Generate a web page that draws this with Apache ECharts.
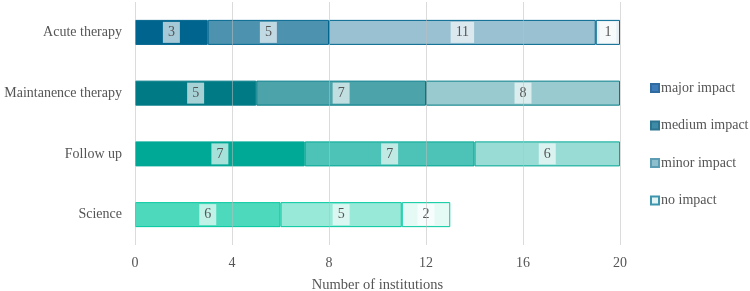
<!DOCTYPE html>
<html>
<head>
<meta charset="utf-8">
<script src="https://cdn.jsdelivr.net/npm/echarts@6/dist/echarts.min.js"></script>
<style>
  html, body { margin: 0; padding: 0; background: #fff; }
  #chart { width: 750px; height: 291px; }
</style>
</head>
<body>
<div id="chart"></div>
<script>
const categories = ['Acute therapy', 'Maintanence therapy', 'Follow up', 'Science'];
const majorImpact = [3, 5, 7, 0];
const mediumImpact = [5, 7, 7, 6];
const minorImpact = [11, 8, 6, 5];
const noImpact = [1, 0, 0, 2];
const xTicks = [0, 4, 8, 12, 16, 20];

// each row has its own hue, lighter shades for lower impact
const rowBase = ['#00658e', '#007b86', '#00a896', '#00c89f'];
const FONT = '"Liberation Serif", "DejaVu Serif", serif';

function tint(hex, a) {
    const n = parseInt(hex.slice(1), 16);
    const ch = [(n >> 16) & 255, (n >> 8) & 255, n & 255].map(c => Math.round(c * a + 255 * (1 - a)));
    return '#' + ch.map(c => c.toString(16).padStart(2, '0')).join('');
}

function buildSeries(name, values, alpha, legendColor, legendBorder) {
    return {
        name: name,
        type: 'bar',
        stack: 'total',
        barWidth: 25,
        itemStyle: { color: legendColor, borderColor: legendBorder, borderWidth: 1 },
        label: {
            show: true,
            position: 'inside',
            color: '#555',
            fontFamily: FONT,
            fontSize: 14,
            backgroundColor: 'rgba(255,255,255,0.65)',
            padding: [4, 5, 3, 5]
        },
        data: values.map((v, i) => ({
            value: v,
            itemStyle: {
                color: tint(rowBase[i], alpha),
                borderColor: rowBase[i],
                borderWidth: v === 0 ? 0 : 1
            },
            label: { show: v !== 0 }
        }))
    };
}

const chart = echarts.init(document.getElementById('chart'));
chart.setOption({
    animation: false,
    grid: { left: 135, right: 130, top: 2, bottom: 46, outerBoundsMode: 'none' },
    legend: {
        orient: 'vertical',
        left: 650,
        top: 81,
        padding: 0,
        itemWidth: 8,
        itemHeight: 8,
        itemGap: 23.5,
        icon: 'rect',
        textStyle: { color: '#555', fontFamily: FONT, fontSize: 14, padding: [0, 0, 0, -3] },
        data: ['major impact', 'medium impact', 'minor impact', 'no impact']
    },
    xAxis: {
        type: 'value',
        min: 0,
        max: 20,
        interval: 4,
        z: 5,
        name: 'Number of institutions',
        nameLocation: 'center',
        nameGap: 33,
        nameTextStyle: { color: '#555', fontFamily: FONT, fontSize: 14.5 },
        axisLine: { show: false },
        axisTick: { show: false },
        axisLabel: {
            color: '#555', fontFamily: FONT, fontSize: 14, margin: 11,
            formatter: v => xTicks.includes(v) ? String(v) : ''
        },
        splitLine: { show: true, lineStyle: { color: 'rgba(190,190,190,0.55)', width: 1 } }
    },
    yAxis: {
        type: 'category',
        data: categories,
        inverse: true,
        axisLine: { show: false },
        axisTick: { show: false },
        axisLabel: { color: '#555', fontFamily: FONT, fontSize: 14, margin: 13 }
    },
    series: [
        buildSeries('major impact', majorImpact, 1, '#3d7cb8', '#2f6aa0'),
        buildSeries('medium impact', mediumImpact, 0.7, '#3e8ba8', '#2c7590'),
        buildSeries('minor impact', minorImpact, 0.4, '#8fbecd', '#5c9db4'),
        buildSeries('no impact', noImpact, 0.1, '#e2f4f4', '#3e95ae')
    ]
});
</script>
</body>
</html>
